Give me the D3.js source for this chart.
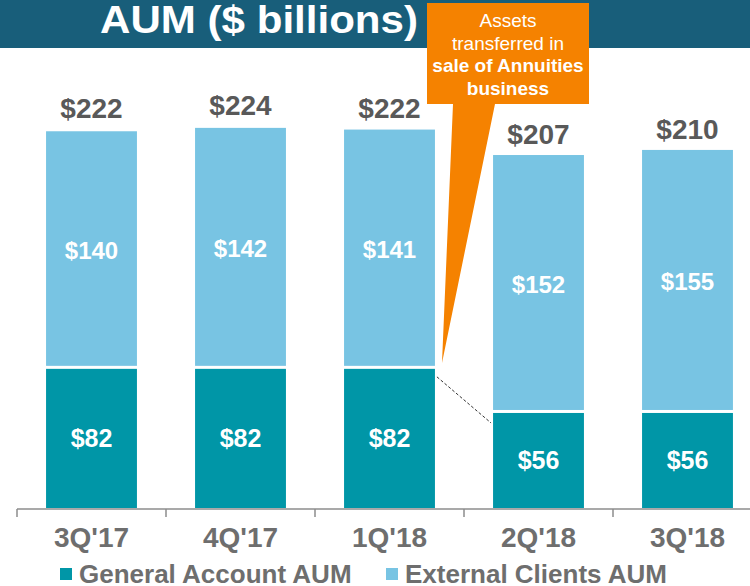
<!DOCTYPE html>
<html>
<head>
<meta charset="utf-8">
<script src="https://cdn.jsdelivr.net/npm/d3@7"></script>
<style>
  body { margin: 0; background: #fff; }
  svg text { font-family: Arial, "Liberation Sans", sans-serif; font-weight: bold; }
</style>
</head>
<body>
<div id="chart"></div>
<script>
const quarters = ["3Q'17", "4Q'17", "1Q'18", "2Q'18", "3Q'18"];
const generalAccount = [82, 82, 82, 56, 56];
const externalClients = [140, 142, 141, 152, 155];
const totals = [222, 224, 222, 207, 210];
const seriesNames = ["General Account AUM", "External Clients AUM"];
const calloutLines = ["Assets", "transferred in", "sale of Annuities", "business"];

const width = 750, height = 586;
const colors = { ga: "#0096a7", ec: "#78c4e3", header: "#185e7a", orange: "#f58200" };

const svg = d3.select("#chart").append("svg")
  .attr("width", width)
  .attr("height", height);

// header band + title
svg.append("rect")
  .attr("x", 0).attr("y", 0)
  .attr("width", width).attr("height", 48)
  .attr("fill", colors.header);
svg.append("text")
  .attr("x", 100).attr("y", 33)
  .attr("fill", "#fff")
  .attr("textLength", 318)
  .attr("lengthAdjust", "spacingAndGlyphs")
  .style("font-size", "39px")
  .text("AUM ($ billions)");

const x = d3.scaleBand()
  .domain(quarters)
  .range([17, 762])
  .paddingInner(0.39)
  .paddingOuter(0.195);

const y = d3.scaleLinear()
  .domain([0, 100])
  .range([508, 338.3]);

const stackData = quarters.map((q, i) => ({ q: q, ga: generalAccount[i], ec: externalClients[i], total: totals[i] }));

// general account segments
svg.append("g").selectAll("rect")
  .data(stackData)
  .enter().append("rect")
    .attr("x", d => x(d.q))
    .attr("width", x.bandwidth())
    .attr("y", d => y(d.ga))
    .attr("height", d => y(0) - y(d.ga))
    .attr("fill", colors.ga);

// external clients segments (with small white gap)
svg.append("g").selectAll("rect")
  .data(stackData)
  .enter().append("rect")
    .attr("x", d => x(d.q))
    .attr("width", x.bandwidth())
    .attr("y", d => y(d.ga + d.ec))
    .attr("height", d => y(d.ga) - y(d.ga + d.ec) - 3)
    .attr("fill", colors.ec);

// inside labels
svg.append("g").selectAll("text")
  .data(stackData)
  .enter().append("text")
    .attr("x", d => x(d.q) + x.bandwidth() / 2)
    .attr("y", d => (y(0) + y(d.ga)) / 2)
    .attr("dy", "0.36em")
    .attr("text-anchor", "middle")
    .attr("fill", "#fff")
    .style("font-size", "25px")
    .text(d => "$" + d.ga);

svg.append("g").selectAll("text")
  .data(stackData)
  .enter().append("text")
    .attr("x", d => x(d.q) + x.bandwidth() / 2)
    .attr("y", d => (y(d.ga) + y(d.ga + d.ec)) / 2)
    .attr("dy", "0.36em")
    .attr("text-anchor", "middle")
    .attr("fill", "#fff")
    .style("font-size", "24px")
    .text(d => "$" + d.ec);

// totals
svg.append("g").selectAll("text")
  .data(stackData)
  .enter().append("text")
    .attr("x", d => x(d.q) + x.bandwidth() / 2)
    .attr("y", d => y(d.total) - 13)
    .attr("text-anchor", "middle")
    .attr("fill", "#595959")
    .style("font-size", "28px")
    .text(d => "$" + d.total);

// x axis
const axis = svg.append("g")
  .attr("transform", "translate(0,509)")
  .call(d3.axisBottom(x).tickSize(0).tickPadding(18));
axis.select(".domain")
  .attr("d", "M17,0H750")
  .attr("stroke", "#8c8c8c")
  .attr("stroke-width", 1.5);
axis.selectAll(".tick text")
  .attr("fill", "#6e6e6e")
  .style("font-size", "28px")
  .style("font-family", "Arial, 'Liberation Sans', sans-serif");
axis.selectAll(".sep")
  .data(x.domain().map(q => x(q) - (x.step() - x.bandwidth()) / 2))
  .enter().append("line")
    .attr("x1", d => d).attr("x2", d => d)
    .attr("y1", 0).attr("y2", 8)
    .attr("stroke", "#8c8c8c")
    .attr("stroke-width", 1.5);

// dashed connector between GA tops
svg.append("line")
  .attr("x1", x(quarters[2]) + x.bandwidth() + 2)
  .attr("y1", y(generalAccount[2]) + 8)
  .attr("x2", x(quarters[3]) - 2)
  .attr("y2", y(generalAccount[3]) + 10)
  .attr("stroke", "#333")
  .attr("stroke-width", 1)
  .attr("stroke-dasharray", "3,2");

// callout
svg.append("path")
  .attr("d", "M427,3H589V104H495L442,363L453,104H427Z")
  .attr("fill", colors.orange);
svg.append("g").selectAll("text")
  .data(calloutLines)
  .enter().append("text")
    .attr("x", 508)
    .attr("y", (d, i) => 27 + i * 22.7)
    .attr("text-anchor", "middle")
    .attr("fill", "#fff")
    .style("font-size", "19px")
    .style("font-weight", (d, i) => i < 2 ? "normal" : "bold")
    .text(d => d);

// legend
const legend = svg.append("g");
const legendX = [60, 386];
seriesNames.forEach((name, i) => {
  legend.append("rect")
    .attr("x", legendX[i]).attr("y", 568)
    .attr("width", 12).attr("height", 12)
    .attr("fill", i === 0 ? colors.ga : colors.ec);
  legend.append("text")
    .attr("x", legendX[i] + 19).attr("y", 583)
    .attr("fill", "#6e6e6e")
    .style("font-size", "26px")
    .text(name);
});
</script>
</body>
</html>
